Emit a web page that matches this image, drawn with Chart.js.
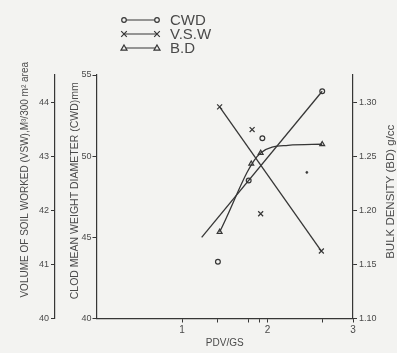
<!DOCTYPE html>
<html><head><meta charset="utf-8">
<script src="https://cdn.jsdelivr.net/npm/chart.js@4.4.1/dist/chart.umd.min.js"></script>
<style>
html,body{margin:0;padding:0;background:#f3f3f1;}
#wrap{position:relative;width:397px;height:353px;}
</style>
</head><body>
<div id="wrap"><canvas id="c" width="397" height="353"></canvas></div>
<script>
// ---- data ----
const seriesNames = ['CWD', 'V.S.W', 'B.D'];
const cwdX = [1.42, 1.78, 1.94, 2.64];
const cwdY = [43.5, 48.5, 51.1, 54.0];
const cwdFitX = [1.23, 2.64];
const cwdFitY = [45.0, 54.0];
const vswX = [1.44, 1.82, 1.92, 2.63];
const vswY = [43.92, 43.5, 41.94, 41.25];
const vswFitX = [1.44, 2.63];
const vswFitY = [43.92, 41.25];
const bdX = [1.44, 1.81, 1.92, 2.64];
const bdY = [1.180, 1.243, 1.253, 1.261];
const bdCurveX = [1.44, 1.92, 2.24, 2.64];
const bdCurveY = [1.180, 1.253, 1.260, 1.261];
const speckX = [2.46];
const speckY = [1.235];
const xTicks = [1, 2, 3];
const xMinorTicks = [1.42, 1.78, 1.91, 2.64];
const cwdTicks = [40, 45, 50, 55];
const vswTicks = [40, 41, 42, 43, 44];
const bdTicks = [1.10, 1.15, 1.20, 1.25, 1.30];
const xTitle = 'PDV/GS';
const cwdTitle = 'CLOD MEAN WEIGHT DIAMETER (CWD)mm';
const vswTitle = 'VOLUME OF SOIL WORKED (VSW),M\u00B3/300 m\u00B2 area';
const bdTitle = 'BULK DENSITY (BD) g/cc';

// ---- chart ----
const ink = '#363636';
const textInk = '#4a4a4a';
const FONT = "'Liberation Sans', Arial, sans-serif";
const pts = (xs, ys) => xs.map((x, i) => ({x: x, y: ys[i]}));
const none = 'rgba(0,0,0,0)';

function tickList(arr) { return function (scale) { scale.ticks = arr.map(v => ({value: v})); }; }

const axisCommon = {
  grid: {display: true, drawOnChartArea: false, drawTicks: true, tickLength: 4, color: ink, lineWidth: 1},
  border: {display: true, color: ink, width: 1.2},
  ticks: {color: textInk, font: {family: FONT, size: 9}, padding: 2},
  title: {display: false}
};

const titlesPlugin = {
  id: 'customTitles',
  afterDraw(chart) {
    const ctx = chart.ctx, s = chart.scales, ca = chart.chartArea;
    const midY = (ca.top + ca.bottom) / 2;
    ctx.save();
    ctx.fillStyle = textInk;
    ctx.textAlign = 'center';
    ctx.textBaseline = 'middle';
    function rot(text, x, y, size) {
      ctx.save(); ctx.translate(x, y); ctx.rotate(-Math.PI / 2);
      ctx.font = size + 'px ' + FONT; ctx.fillText(text, 0, 0); ctx.restore();
    }
    rot(vswTitle, s.yVSW.left + 25, midY - 17, 10);
    rot(cwdTitle, s.yCWD.left + 20, midY - 6, 10.5);
    rot(bdTitle, s.yBD.right - 6, midY - 5, 11.5);
    ctx.font = '10px ' + FONT;
    ctx.fillText(xTitle, (ca.left + ca.right) / 2, 343);

    // legend
    const rows = [20, 34, 48];
    const styles = ['circle', 'cross', 'triangle'];
    const x0 = 124, x1 = 157;
    ctx.strokeStyle = ink; ctx.lineWidth = 1.2;
    rows.forEach((y, i) => {
      ctx.beginPath(); ctx.moveTo(x0, y); ctx.lineTo(x1, y); ctx.stroke();
      [x0, x1].forEach(px => {
        ctx.beginPath();
        if (styles[i] === 'circle') { ctx.arc(px, y, 2.3, 0, Math.PI * 2); ctx.fillStyle = '#f3f3f1'; ctx.fill(); ctx.stroke(); }
        else if (styles[i] === 'cross') { const r = 2.8; ctx.moveTo(px - r, y - r); ctx.lineTo(px + r, y + r); ctx.moveTo(px - r, y + r); ctx.lineTo(px + r, y - r); ctx.stroke(); }
        else { const r = 3; ctx.moveTo(px, y - r); ctx.lineTo(px + r, y + r * 0.7); ctx.lineTo(px - r, y + r * 0.7); ctx.closePath(); ctx.fillStyle = '#f3f3f1'; ctx.fill(); ctx.stroke(); }
      });
      ctx.fillStyle = textInk;
      ctx.textAlign = 'left';
      ctx.font = '15px ' + FONT;
      ctx.fillText(seriesNames[i], 170, y + 1);
    });
    ctx.restore();
  }
};

new Chart(document.getElementById('c'), {
  type: 'line',
  data: {
    datasets: [
      {label: 'CWD', data: pts(cwdX, cwdY), yAxisID: 'yCWD', showLine: false, pointStyle: 'circle', pointRadius: 2.4, borderColor: ink, backgroundColor: none, borderWidth: 1.2},
      {label: 'CWD fit', data: pts(cwdFitX, cwdFitY), yAxisID: 'yCWD', pointRadius: 0, borderColor: ink, borderWidth: 1.3, fill: false},
      {label: 'V.S.W', data: pts(vswX, vswY), yAxisID: 'yVSW', showLine: false, pointStyle: 'crossRot', pointRadius: 3.5, borderColor: ink, backgroundColor: none, borderWidth: 1.2},
      {label: 'V.S.W fit', data: pts(vswFitX, vswFitY), yAxisID: 'yVSW', pointRadius: 0, borderColor: ink, borderWidth: 1.3, fill: false},
      {label: 'B.D', data: pts(bdX, bdY), yAxisID: 'yBD', showLine: false, pointStyle: 'triangle', pointRadius: 2.8, borderColor: ink, backgroundColor: none, borderWidth: 1.2},
      {label: 'B.D curve', data: pts(bdCurveX, bdCurveY), yAxisID: 'yBD', pointRadius: 0, borderColor: ink, borderWidth: 1.3, fill: false, cubicInterpolationMode: 'monotone'},
      {label: 'speck', data: pts(speckX, speckY), yAxisID: 'yBD', showLine: false, pointStyle: 'circle', pointRadius: 1.1, borderColor: ink, backgroundColor: ink, borderWidth: 0.5}
    ]
  },
  options: {
    responsive: false,
    animation: false,
    devicePixelRatio: 1,
    layout: {padding: {top: 75, left: 0, right: 0, bottom: 0}},
    plugins: {legend: {display: false}, tooltip: {enabled: false}},
    scales: {
      x: Object.assign({}, axisCommon, {
        type: 'linear', position: 'bottom', min: 0, max: 3,
        afterBuildTicks: tickList(xTicks.concat(xMinorTicks)),
        ticks: Object.assign({}, axisCommon.ticks, {font: {family: FONT, size: 10}, maxRotation: 0, autoSkip: false,
          callback: v => xTicks.includes(v) ? String(v) : ''}),
        afterFit: s => { s.height = 34.5; }
      }),
      yVSW: Object.assign({}, axisCommon, {
        type: 'linear', position: 'left', weight: 2, min: 40, max: 44.51,
        afterBuildTicks: tickList(vswTicks),
        ticks: Object.assign({}, axisCommon.ticks, {callback: v => String(v)}),
        afterFit: s => { s.width = 55; }
      }),
      yCWD: Object.assign({}, axisCommon, {
        type: 'linear', position: 'left', weight: 1, min: 40, max: 55,
        afterBuildTicks: tickList(cwdTicks),
        ticks: Object.assign({}, axisCommon.ticks, {padding: 1, callback: v => String(v)}),
        afterFit: s => { s.width = 41.5; }
      }),
      yBD: Object.assign({}, axisCommon, {
        type: 'linear', position: 'right', min: 1.10, max: 1.325,
        afterBuildTicks: tickList(bdTicks),
        ticks: Object.assign({}, axisCommon.ticks, {callback: v => v.toFixed(2)}),
        afterFit: s => { s.width = 44; }
      })
    }
  },
  plugins: [titlesPlugin]
});
</script>
</body></html>
